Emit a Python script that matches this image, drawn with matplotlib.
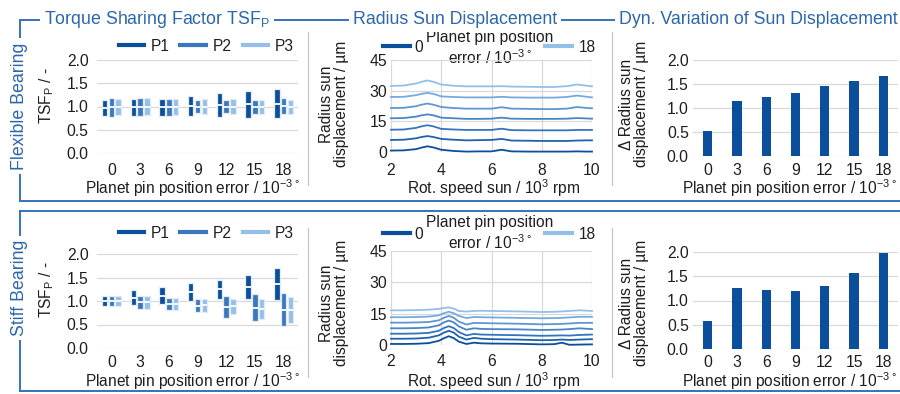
import matplotlib
matplotlib.use("Agg")
import matplotlib.pyplot as plt
from matplotlib.lines import Line2D
from matplotlib.legend import Legend
import numpy as np

plt.rcParams['font.family'] = ['Liberation Sans', 'DejaVu Sans']
plt.rcParams['mathtext.fontset'] = 'custom'
plt.rcParams['mathtext.rm'] = 'Liberation Sans'
plt.rcParams['mathtext.it'] = 'Liberation Sans:italic'
plt.rcParams['mathtext.bf'] = 'Liberation Sans:bold'

# ---------------- data ----------------
errors = ['0', '3', '6', '9', '12', '15', '18']
planets = ['P1', 'P2', 'P3']

# TSF ranges (min / max) flexible bearing
flex_p1_lo = [0.80, 0.80, 0.80, 0.80, 0.77, 0.75, 0.75]
flex_p1_hi = [1.15, 1.16, 1.17, 1.23, 1.30, 1.34, 1.37]
flex_p2_lo = [0.78, 0.80, 0.80, 0.85, 0.85, 0.83, 0.83]
flex_p2_hi = [1.19, 1.19, 1.17, 1.14, 1.14, 1.15, 1.18]
flex_p3_lo = [0.82, 0.81, 0.82, 0.83, 0.83, 0.83, 0.83]
flex_p3_hi = [1.17, 1.19, 1.16, 1.16, 1.17, 1.15, 1.14]

# TSF ranges stiff bearing
stiff_p1_lo = [0.89, 0.91, 0.93, 0.99, 1.05, 1.05, 1.03]
stiff_p1_hi = [1.11, 1.23, 1.30, 1.39, 1.44, 1.55, 1.71]
stiff_p2_lo = [0.89, 0.84, 0.80, 0.76, 0.64, 0.57, 0.46]
stiff_p2_hi = [1.11, 1.10, 1.06, 1.04, 1.11, 1.14, 1.16]
stiff_p3_lo = [0.90, 0.84, 0.80, 0.77, 0.73, 0.62, 0.54]
stiff_p3_hi = [1.10, 1.10, 1.06, 1.04, 1.04, 1.04, 1.09]

# Dynamic variation of sun displacement
flex_delta = [0.53, 1.15, 1.22, 1.31, 1.46, 1.57, 1.67]
stiff_delta = [0.58, 1.26, 1.21, 1.19, 1.30, 1.56, 1.98]

# Radius sun displacement vs speed (flexible)
flex_speed = [2.0, 2.5, 3.0, 3.2, 3.45, 3.7, 4.0, 4.5, 5.0, 5.5, 6.0, 6.4, 6.8, 7.5, 8.0, 8.5, 9.0, 9.4, 9.8, 10.0]
flex_r0 = [0.7, 0.8, 1.4, 2.1, 2.8, 2.2, 1.1, 0.5, 0.2, 0.3, 0.3, 1.1, 0.3, 0.2, 0.2, 0.2, 0.2, 0.3, 0.2, 0.2]
flex_r3 = [5.9, 6.0, 6.7, 7.3, 7.8, 7.3, 6.4, 6.0, 5.7, 5.8, 5.9, 6.4, 5.6, 5.5, 5.4, 5.4, 5.4, 5.6, 5.7, 5.7]
flex_r6 = [10.9, 11.0, 11.8, 12.5, 13.1, 12.5, 11.3, 11.0, 10.8, 10.8, 10.8, 11.4, 10.7, 10.6, 10.6, 10.6, 10.6, 10.8, 10.8, 10.8]
flex_r9 = [16.5, 16.6, 17.3, 17.9, 18.4, 17.9, 16.8, 16.5, 16.2, 16.2, 16.3, 16.8, 16.3, 16.2, 16.2, 16.2, 16.3, 16.6, 16.4, 16.3]
flex_r12 = [21.5, 21.6, 22.4, 23.1, 23.7, 23.1, 22.0, 21.5, 21.2, 21.2, 21.2, 21.9, 21.2, 21.1, 21.0, 21.0, 21.2, 22.0, 21.5, 21.4]
flex_r15 = [26.9, 27.0, 27.8, 28.4, 28.9, 28.4, 27.2, 26.9, 26.7, 26.7, 26.7, 27.0, 26.7, 26.6, 26.6, 26.6, 26.9, 27.6, 27.0, 26.7]
flex_r18 = [32.3, 32.5, 33.5, 34.3, 35.0, 34.3, 33.0, 32.4, 32.1, 32.1, 32.1, 32.2, 32.0, 31.9, 31.8, 31.8, 32.2, 33.0, 32.4, 32.1]

# Radius sun displacement vs speed (stiff)
stiff_speed = [2.0, 2.5, 3.0, 3.5, 3.9, 4.1, 4.3, 4.5, 4.7, 5.0, 5.3, 5.6, 6.0, 7.0, 8.0, 8.5, 8.8, 9.1, 9.5, 10.0]
stiff_r0 = [0.5, 0.5, 0.6, 0.9, 2.0, 3.2, 4.2, 3.3, 1.6, 0.5, 1.1, 0.8, 0.7, 0.6, 0.3, 0.4, 1.1, 0.1, 0.2, 0.3]
stiff_r3 = [3.0, 3.0, 3.1, 3.5, 4.6, 5.9, 6.8, 5.9, 4.0, 2.6, 3.4, 3.0, 2.8, 2.6, 2.3, 2.4, 2.6, 2.4, 2.6, 2.8]
stiff_r6 = [5.4, 5.4, 5.5, 5.8, 6.8, 8.1, 9.0, 8.1, 6.2, 4.6, 5.3, 5.0, 4.9, 4.7, 4.4, 4.5, 4.6, 4.5, 4.8, 5.0]
stiff_r9 = [8.0, 8.0, 8.1, 8.4, 9.4, 10.8, 11.7, 10.8, 8.9, 7.3, 8.0, 7.7, 7.6, 7.5, 7.2, 7.3, 7.4, 7.6, 8.0, 7.6]
stiff_r12 = [10.7, 10.7, 10.8, 11.0, 11.8, 13.0, 13.9, 13.0, 11.2, 9.8, 10.6, 10.5, 10.4, 10.2, 9.9, 10.0, 10.1, 10.3, 10.6, 10.6]
stiff_r15 = [13.3, 13.3, 13.4, 13.6, 14.2, 15.2, 15.9, 15.2, 13.9, 12.9, 13.4, 13.3, 13.2, 13.0, 12.8, 12.9, 13.0, 13.2, 13.5, 13.5]
stiff_r18 = [16.6, 16.6, 16.7, 16.9, 17.3, 17.7, 18.0, 17.4, 16.3, 16.0, 16.3, 16.4, 16.3, 16.1, 15.8, 15.9, 16.1, 16.3, 16.6, 16.3]

speed_ticks = [2, 4, 6, 8, 10]
disp_ticks = [0, 15, 30, 45]
tsf_ticks = [0.0, 0.5, 1.0, 1.5, 2.0]

# ---------------- style ----------------
W, H = 900, 394
BLUE_T = '#2a67ae'
FRAME = '#3572b8'
GRID = '#d9d9d9'
BAR = '#0b4f9c'
TXT = '#1e1e1e'
P_COLORS = ['#0b4f9c', '#3a78be', '#94bfe8']
LINE_COLORS = ['#0b4f9c', '#1f62ad', '#3574bc', '#4a85c8', '#5f96d3', '#76a9de', '#94bfe8']
FS = 11.3      # tick labels
LFS = 11.2     # axis labels
GFS = 11.2     # legends
TFS = 12.8     # headers
DEG = '\u00b0'

fig = plt.figure(figsize=(W / 100, H / 100), dpi=100)

ov = fig.add_axes([0, 0, 1, 1], zorder=0)
ov.set_xlim(0, W)
ov.set_ylim(H, 0)
ov.axis('off')


def px_axes(x0, x1, y0, y1):
    return fig.add_axes([x0 / W, 1 - y1 / H, (x1 - x0) / W, (y1 - y0) / H], zorder=1)


def style(ax, xpad, ypad):
    for s in ax.spines.values():
        s.set_visible(False)
    ax.tick_params(length=0, labelsize=FS, colors=TXT)
    ax.tick_params(axis='x', pad=xpad)
    ax.tick_params(axis='y', pad=ypad)
    ax.set_facecolor('none')
    ax.set_axisbelow(True)
    ax.grid(axis='y', color=GRID, lw=0.9)


def tsf_panel(ax, lows, highs, xpad):
    idx = np.arange(len(errors))
    offs = [-0.235, 0.0, 0.235]
    w = 0.19
    for k in range(3):
        lo = np.array(lows[k])
        hi = np.array(highs[k])
        mid = (lo + hi) / 2
        ax.bar(idx + offs[k], hi - lo, bottom=lo, width=w, color=P_COLORS[k],
               edgecolor='#e3eaf3', lw=0.9, zorder=2)
        ax.hlines(mid, idx + offs[k] - w / 2, idx + offs[k] + w / 2, color='white', lw=1.3, zorder=3)
    ax.set_xlim(-0.5, 6.5)
    ax.set_ylim(0, 2.0)
    ax.set_yticks(tsf_ticks)
    ax.set_yticklabels([f'{t:.1f}' for t in tsf_ticks])
    ax.set_xticks(idx)
    ax.set_xticklabels(errors)
    style(ax, xpad, 6)


def disp_panel(ax, x, series, xpad):
    for k, ys in enumerate(series):
        ax.plot(x, ys, color=LINE_COLORS[k], lw=1.3, zorder=2, clip_on=False)
    ax.set_xlim(2, 10)
    ax.set_ylim(0, 45)
    ax.set_xticks(speed_ticks)
    ax.set_yticks(disp_ticks)
    style(ax, xpad, 3)
    ax.grid(axis='x', color=GRID, lw=0.9)


def delta_panel(ax, vals, xpad):
    idx = np.arange(len(errors))
    ax.bar(idx, vals, width=0.32, color=BAR, zorder=2)
    ax.set_xlim(-0.5, 6.5)
    ax.set_ylim(0, 2.0)
    ax.set_yticks(tsf_ticks)
    ax.set_yticklabels([f'{t:.1f}' for t in tsf_ticks])
    ax.set_xticks(idx)
    ax.set_xticklabels(errors)
    style(ax, xpad, 3)


def add_legend(handles, labels, anchor, loc, **kw):
    lg = Legend(ov, handles, labels, loc=loc, bbox_to_anchor=anchor, bbox_transform=ov.transData,
                frameon=False, fontsize=GFS, borderpad=0, borderaxespad=0, **kw)
    for t in lg.get_texts():
        t.set_color(TXT)
    ov.add_artist(lg)


rows = [
    dict(tsf=(60, 153), disp=(60, 152), dlt=(60, 156), pads=(7.0, 8.0, 5.2),
         lows=[flex_p1_lo, flex_p2_lo, flex_p3_lo], highs=[flex_p1_hi, flex_p2_hi, flex_p3_hi],
         x=flex_speed, series=[flex_r0, flex_r3, flex_r6, flex_r9, flex_r12, flex_r15, flex_r18],
         delta=flex_delta, leg_y=46, txt_y=48.5, xl_y=188.5, yl_tsf=96, yl_mid=104),
    dict(tsf=(254, 348), disp=(251, 345), dlt=(252, 349), pads=(5.0, 6.5, 4.2),
         lows=[stiff_p1_lo, stiff_p2_lo, stiff_p3_lo], highs=[stiff_p1_hi, stiff_p2_hi, stiff_p3_hi],
         x=stiff_speed, series=[stiff_r0, stiff_r3, stiff_r6, stiff_r9, stiff_r12, stiff_r15, stiff_r18],
         delta=stiff_delta, leg_y=233, txt_y=233.5, xl_y=381.5, yl_tsf=290, yl_mid=303),
]

sup_err = r'10$^{\mathrm{-3\ ' + DEG + r'}}$'
xlab_err = 'Planet pin position error / ' + sup_err
for r in rows:
    a1 = px_axes(97, 298, *r['tsf'])
    tsf_panel(a1, r['lows'], r['highs'], r['pads'][0])
    a2 = px_axes(391, 592, *r['disp'])
    disp_panel(a2, r['x'], r['series'], r['pads'][1])
    a3 = px_axes(693, 898, *r['dlt'])
    delta_panel(a3, r['delta'], r['pads'][2])

    hs = [Line2D([], [], color=c, lw=3) for c in P_COLORS]
    add_legend(hs, planets, (206, r['leg_y']), 'center', ncol=3, handlelength=1.65,
               handletextpad=0.4, columnspacing=0.72)
    add_legend([Line2D([], [], color=LINE_COLORS[0], lw=3)], ['0'], (383, r['leg_y'] + 1),
               'center left', handlelength=1.75, handletextpad=0.25)
    add_legend([Line2D([], [], color=LINE_COLORS[-1], lw=3)], ['18'], (545, r['leg_y'] + 1),
               'center left', handlelength=1.75, handletextpad=0.4)
    ov.text(490, r['txt_y'], 'Planet pin position\nerror / ' + sup_err,
            ha='center', va='center', fontsize=GFS, linespacing=1.2, color=TXT, zorder=5)

    ov.text(193, r['xl_y'], xlab_err, ha='center', va='center', fontsize=LFS, color=TXT)
    ov.text(494, r['xl_y'], r'Rot. speed sun / 10$^{\mathrm{3}}$ rpm', ha='center', va='center',
            fontsize=LFS, color=TXT)
    ov.text(790, r['xl_y'], xlab_err, ha='center', va='center', fontsize=LFS, color=TXT)
    ov.text(47, r['yl_tsf'], r'TSF$_{\mathrm{P}}$ / -', ha='center', va='center', rotation=90,
            fontsize=LFS, color=TXT)
    ov.text(334, r['yl_mid'], 'Radius sun\ndisplacement / \u00b5m', ha='center', va='center',
            rotation=90, fontsize=LFS, linespacing=1.0, color=TXT)
    ov.text(634, r['yl_mid'], '\u0394 Radius sun\ndisplacement / \u00b5m', ha='center', va='center',
            rotation=90, fontsize=LFS, linespacing=1.0, color=TXT)

for x in (308, 612):
    ov.plot([x, x], [32, 185], color='#c8c8c8', lw=0.9)
    ov.plot([x, x], [228, 377], color='#c8c8c8', lw=0.9)

lw = 1.4
ov.plot([20, 900], [20, 20], color=FRAME, lw=lw)
ov.plot([20, 20], [20, 201], color=FRAME, lw=lw)
ov.plot([20, 900], [201, 201], color=FRAME, lw=lw)
ov.plot([20, 900], [211, 211], color=FRAME, lw=lw)
ov.plot([20, 20], [211, 391], color=FRAME, lw=lw)
ov.plot([20, 900], [391, 391], color=FRAME, lw=lw)

bb = dict(facecolor='white', edgecolor='none', pad=3)
ov.text(157, 19, r'Torque Sharing Factor TSF$_{\mathrm{P}}$', ha='center', va='center', fontsize=TFS,
        color=BLUE_T, bbox=bb, zorder=5)
ov.text(455, 19, 'Radius Sun Displacement', ha='center', va='center', fontsize=TFS,
        color=BLUE_T, bbox=bb, zorder=5)
ov.text(758, 19, 'Dyn. Variation of Sun Displacement', ha='center', va='center', fontsize=TFS,
        color=BLUE_T, bbox=bb, zorder=5)
ov.text(20, 106, 'Flexible Bearing', ha='center', va='center', rotation=90, fontsize=TFS,
        color=BLUE_T, bbox=bb, zorder=5)
ov.text(20, 288, 'Stiff Bearing', ha='center', va='center', rotation=90, fontsize=TFS,
        color=BLUE_T, bbox=bb, zorder=5)

fig.savefig('out.png', dpi=100)
